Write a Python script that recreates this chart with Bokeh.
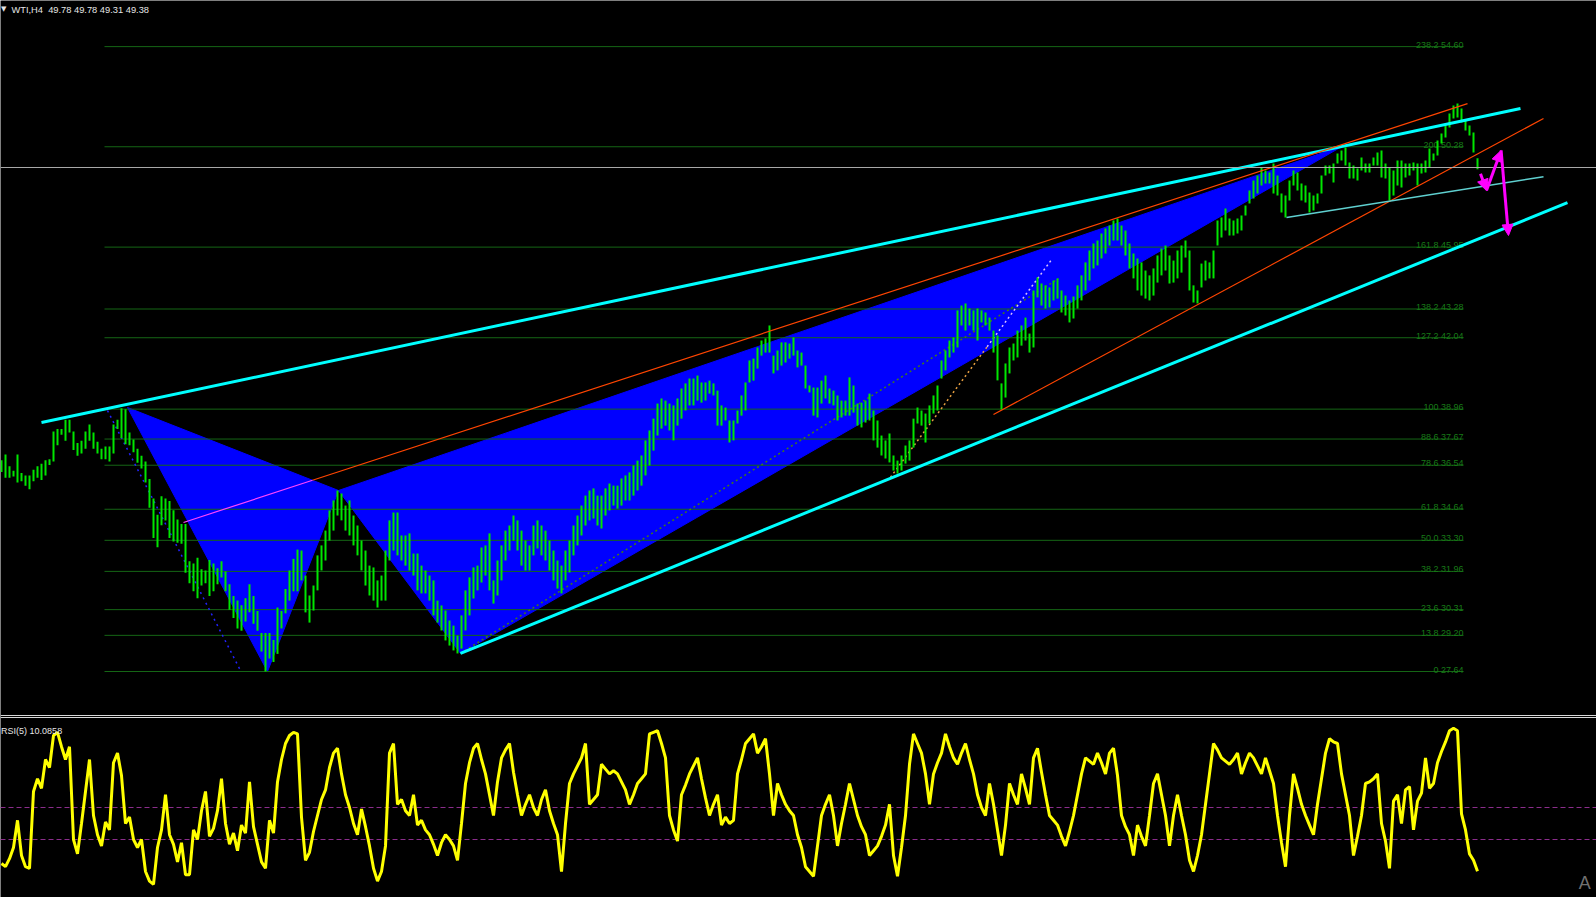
from bokeh.plotting import figure
from bokeh.models import Range1d, ColumnDataSource, Arrow, NormalHead
from bokeh.core.properties import value
from bokeh.embed import file_html
from bokeh.resources import INLINE

# ---------------- data ----------------
symbol = "WTI,H4"
last_ohlc = [49.78, 49.78, 49.31, 49.38]
bid_price = 49.38

bar_lo = [
    36.25, 36.00, 36.00, 36.05, 35.80, 35.85, 35.65, 35.50, 35.85, 36.00,
    35.90, 36.10, 36.55, 36.70, 37.40, 37.85, 37.60, 37.95, 37.20, 36.95,
    37.05, 37.25, 37.60, 37.25, 37.05, 36.80, 36.80, 36.70, 37.05, 38.10,
    37.70, 37.45, 37.40, 37.10, 36.65, 36.40, 35.80, 34.70, 33.40, 33.00,
    33.95, 34.15, 33.40, 33.25, 33.20, 33.15, 31.90, 31.45, 31.10, 30.80,
    31.35, 31.45, 30.90, 31.10, 31.40, 31.70, 31.10, 30.30, 29.95, 29.50,
    29.40, 29.80, 30.20, 29.70, 29.40, 28.50, 27.64, 28.20, 28.05, 28.40,
    29.50, 30.15, 30.70, 31.10, 31.10, 31.57, 30.19, 29.75, 30.27, 31.14,
    32.00, 32.43, 33.29, 33.72, 34.37, 34.16, 33.72, 33.51, 33.08, 32.65,
    32.00, 31.35, 30.92, 30.70, 30.40, 30.70, 30.70, 32.43, 32.86, 32.65,
    32.43, 32.21, 32.00, 31.78, 31.14, 31.01, 31.01, 30.70, 30.06, 29.75,
    29.41, 28.98, 28.76, 28.55, 28.42, 28.63, 29.41, 30.06, 30.79, 31.14,
    31.48, 31.78, 31.14, 30.57, 30.92, 31.57, 32.43, 32.86, 33.29, 32.86,
    32.21, 32.00, 32.00, 32.65, 32.95, 32.65, 32.43, 32.00, 31.57, 31.22,
    31.01, 31.57, 31.91, 32.65, 33.08, 33.51, 33.94, 34.16, 34.24, 33.94,
    33.81, 34.37, 34.59, 34.80, 34.67, 34.80, 35.02, 35.02, 35.23, 35.45,
    35.66, 36.10, 36.53, 37.17, 37.82, 38.12, 38.25, 38.04, 37.61, 38.25,
    38.55, 38.90, 39.12, 39.12, 39.33, 39.24, 39.33, 39.63, 39.55, 38.25,
    38.25, 38.47, 37.52, 37.61, 38.34, 38.68, 38.90, 40.11, 40.19, 40.71,
    41.27, 41.40, 41.40, 40.50, 40.63, 40.84, 40.97, 41.14, 41.27, 40.76,
    40.84, 39.85, 39.68, 38.68, 38.60, 39.20, 39.42, 39.20, 39.12, 38.47,
    38.60, 38.68, 38.68, 38.81, 38.25, 38.17, 38.38, 38.47, 37.61, 37.30,
    36.96, 36.83, 36.66, 36.31, 36.18, 36.31, 36.61, 36.74, 37.30, 38.34,
    38.25, 37.52, 38.34, 38.77, 38.90, 40.28, 40.63, 41.19, 41.40, 41.62,
    42.57, 42.35, 42.57, 42.35, 41.92, 42.70, 42.57, 42.35, 41.40, 40.20,
    38.94, 39.46, 40.50, 41.06, 41.19, 41.70, 41.92, 41.40, 41.62, 43.78,
    43.43, 43.30, 43.35, 43.65, 43.73, 43.13, 43.00, 42.70, 42.87, 43.30,
    43.65, 44.08, 44.51, 45.03, 45.16, 45.46, 45.67, 46.02, 46.24, 46.24,
    46.02, 45.59, 45.03, 44.60, 44.08, 43.86, 43.73, 43.65, 43.86, 44.42,
    44.73, 44.94, 44.38, 44.42, 44.60, 44.85, 45.50, 44.08, 43.56, 43.52,
    44.21, 44.51, 44.60, 44.60, 46.02, 46.37, 46.67, 46.45, 46.45, 46.54,
    46.67, 47.31, 47.83, 48.05, 48.26, 48.61, 48.70, 48.70, 48.26, 48.18,
    47.44, 47.23, 47.96, 48.61, 48.39, 47.96, 47.88, 47.44, 47.53, 47.83,
    48.26, 49.04, 49.13, 48.74, 49.56, 49.69, 49.47, 48.91, 48.91, 48.82,
    49.26, 49.17, 49.17, 49.47, 49.47, 48.95, 48.91, 47.96, 48.18, 48.61,
    48.52, 48.95, 49.04, 49.26, 48.61, 49.13, 49.17, 49.39, 49.69, 49.90,
    50.42, 50.68, 51.11, 51.50, 51.54, 51.33, 50.98, 50.77, 50.03, 49.31,
]
bar_hi = [
    36.75, 37.00, 36.50, 36.30, 37.00, 36.20, 36.10, 36.10, 36.35, 36.50,
    36.60, 36.75, 36.80, 38.00, 38.10, 38.10, 38.50, 38.50, 38.00, 37.50,
    37.60, 38.00, 38.30, 37.95, 37.55, 37.25, 37.35, 37.35, 38.30, 38.50,
    39.00, 38.95, 37.95, 37.65, 37.25, 36.95, 36.70, 35.95, 35.10, 34.40,
    35.20, 35.10, 35.00, 34.60, 34.20, 34.00, 34.00, 32.40, 32.30, 32.55,
    32.05, 32.00, 32.45, 32.30, 32.10, 32.40, 31.95, 31.40, 30.90, 30.70,
    30.50, 30.80, 31.40, 30.90, 30.25, 29.30, 29.30, 29.30, 29.00, 30.40,
    30.25, 31.20, 32.00, 32.50, 32.90, 32.86, 31.78, 30.92, 31.35, 32.65,
    33.08, 33.72, 34.59, 35.02, 35.45, 35.32, 34.80, 35.02, 34.37, 33.94,
    33.29, 32.86, 32.21, 32.13, 31.57, 31.78, 32.86, 34.16, 34.50, 34.50,
    33.51, 33.51, 33.60, 32.73, 32.73, 32.21, 32.00, 31.78, 31.57, 30.70,
    30.49, 30.27, 29.84, 29.62, 29.19, 30.06, 31.14, 31.70, 32.13, 32.21,
    32.99, 33.08, 33.60, 31.57, 32.43, 33.08, 33.72, 33.94, 34.37, 34.16,
    33.72, 33.29, 33.08, 33.94, 34.16, 33.94, 33.72, 33.29, 32.86, 32.43,
    32.21, 32.86, 33.29, 33.94, 34.37, 34.80, 35.23, 35.45, 35.54, 35.23,
    35.23, 35.54, 35.75, 35.66, 35.66, 35.97, 36.10, 36.23, 36.53, 36.74,
    36.96, 37.61, 38.04, 38.55, 39.20, 39.42, 39.33, 39.20, 39.12, 39.42,
    39.85, 40.07, 40.28, 40.28, 40.41, 40.11, 40.11, 40.19, 40.07, 39.76,
    39.12, 39.03, 38.47, 38.47, 38.90, 39.55, 40.11, 41.06, 41.14, 41.62,
    41.92, 42.01, 42.57, 41.27, 41.49, 41.84, 41.84, 41.79, 42.05, 41.49,
    41.40, 40.84, 39.98, 39.89, 39.89, 40.19, 40.41, 39.85, 39.76, 39.55,
    39.33, 39.33, 40.33, 39.98, 39.20, 39.24, 39.33, 39.63, 38.90, 38.47,
    37.82, 37.61, 37.91, 36.96, 36.74, 36.96, 37.39, 37.61, 38.55, 39.03,
    38.90, 38.77, 39.12, 39.55, 39.98, 41.06, 41.49, 41.92, 42.05, 43.22,
    43.43, 43.52, 43.30, 43.22, 43.30, 43.22, 43.13, 42.91, 42.35, 42.14,
    40.07, 40.93, 41.62, 41.79, 42.35, 42.57, 42.91, 42.22, 44.08, 44.64,
    44.38, 44.30, 44.21, 44.51, 44.60, 44.08, 43.86, 43.65, 43.82, 44.30,
    44.73, 45.29, 45.80, 46.11, 46.24, 46.54, 46.75, 46.88, 47.10, 47.18,
    46.88, 46.67, 46.11, 45.67, 45.46, 45.29, 44.94, 44.73, 45.03, 45.59,
    45.89, 46.02, 45.59, 45.37, 45.80, 46.02, 46.24, 45.80, 44.30, 44.08,
    45.24, 45.37, 45.29, 45.80, 47.10, 47.23, 47.62, 47.18, 47.10, 47.18,
    47.31, 47.75, 48.39, 48.82, 49.04, 49.39, 49.26, 49.17, 49.56, 49.04,
    48.26, 48.18, 48.82, 49.26, 49.17, 48.70, 48.61, 48.31, 48.18, 48.26,
    49.04, 49.47, 49.47, 49.56, 49.99, 50.12, 50.25, 49.60, 49.47, 49.34,
    49.82, 49.56, 49.56, 49.82, 50.03, 50.12, 49.56, 49.39, 49.26, 49.69,
    49.69, 49.56, 49.56, 49.60, 49.56, 49.56, 49.69, 50.20, 49.99, 50.55,
    50.85, 51.20, 51.71, 52.06, 52.15, 51.93, 51.41, 51.20, 50.90, 49.78,
]

rsi_period = 5
rsi = [
    15, 13, 18, 25, 42, 20, 13, 12, 60, 68,
    62, 80, 75, 95, 97, 88, 80, 88, 30, 21,
    40, 60, 80, 45, 33, 26, 41, 36, 78, 84,
    70, 40, 44, 30, 25, 30, 10, 4, 2, 25,
    36, 58, 33, 27, 16, 28, 8, 8, 36, 30,
    48, 60, 32, 37, 48, 68, 40, 27, 34, 23,
    39, 34, 66, 38, 27, 16, 12, 42, 34, 66,
    80, 90, 95, 97, 96, 44, 17, 22, 35, 45,
    55, 61, 75, 84, 87, 71, 58, 50, 40, 33,
    49, 38, 26, 12, 4, 10, 26, 84, 90, 52,
    55, 48, 45, 58, 39, 42, 36, 33, 27, 20,
    28, 33, 30, 26, 17, 40, 65, 78, 87, 90,
    80, 71, 58, 45, 66, 81, 86, 90, 72, 58,
    45, 52, 58, 50, 45, 55, 61, 48, 40, 33,
    10, 40, 65, 71, 76, 81, 90, 52, 55, 58,
    77, 74, 71, 73, 71, 66, 61, 52, 58, 65,
    68, 71, 96, 97, 98, 90, 81, 45, 36, 29,
    58, 64, 71, 76, 81, 68, 56, 45, 52, 58,
    39, 44, 40, 42, 71, 80, 90, 93, 96, 84,
    88, 93, 71, 45, 65, 58, 52, 48, 45, 33,
    25, 13, 10, 7, 26, 45, 52, 58, 45, 26,
    40, 52, 65, 55, 45, 38, 33, 20, 23, 26,
    32, 39, 52, 20, 7, 25, 45, 77, 96, 90,
    84, 71, 52, 71, 78, 84, 96, 88, 81, 77,
    84, 90, 80, 71, 58, 50, 45, 65, 52, 36,
    20, 39, 65, 58, 52, 71, 62, 52, 81, 87,
    72, 58, 45, 42, 39, 32, 26, 35, 45, 58,
    71, 81, 79, 77, 84, 78, 71, 84, 87, 70,
    45, 38, 33, 20, 39, 32, 26, 45, 65, 71,
    58, 45, 26, 45, 58, 45, 33, 17, 10, 20,
    33, 52, 71, 90, 86, 81, 79, 77, 80, 84,
    71, 78, 84, 81, 76, 71, 81, 73, 65, 45,
    28, 13, 45, 71, 62, 52, 45, 39, 33, 52,
    68, 84, 93, 91, 90, 71, 58, 45, 20, 32,
    45, 65, 66, 68, 71, 40, 29, 12, 54, 58,
    40, 61, 63, 36, 54, 59, 81, 62, 65, 78,
    85, 91, 98, 99.5, 98, 46, 36, 21, 17, 10.0858,
]
rsi_levels = [50, 30]

fib_pct = ["0", "13.8", "23.6", "38.2", "50.0", "61.8", "78.6", "88.6",
           "100", "127.2", "138.2", "161.8", "200", "238.2"]
fib_price = [27.64, 29.20, 30.31, 31.96, 33.30, 34.64, 36.54, 37.67,
             38.96, 42.04, 43.28, 45.95, 50.28, 54.60]
fib_bar_start = 25.75
fib_bar_end = 365.5

# harmonic pattern pivots (bar index, price)
xab_bar = [31.5, 66.5, 84.25]
xab_price = [39.03, 27.64, 35.45]
bcd_bar = [84.25, 114.75, 335.5]
bcd_price = [35.45, 28.42, 50.33]

# trend lines (bar index, price)
cyan_bar0 = [10.0, 114.75]
cyan_p0 = [38.38, 28.42]
cyan_bar1 = [379.75, 391.5]
cyan_p1 = [51.93, 47.87]

orange_bar0 = [77.75, 248.0]
orange_p0 = [35.89, 38.73]
orange_bar1 = [366.5, 385.5]
orange_p1 = [52.14, 51.50]

pink_bar = [45.5, 77.75]
pink_price = [34.07, 35.89]

flag_bar = [321.25, 385.5]
flag_price = [47.23, 48.99]

xa_dot_bar = [26.5, 59.75]
xa_dot_price = [38.90, 27.68]
cd_dot_bar = [114.75, 264.25]
cd_dot_price = [28.42, 44.59]
d_dot_bar = [222.25, 246.4]
d_dot_price = [36.02, 41.65]
d_dot2_bar = [246.4, 262.7]
d_dot2_price = [41.65, 45.45]

forecast_bar = [369.75, 371.25, 374.9, 376.75]
forecast_price = [49.12, 48.39, 50.12, 46.45]

# ---------------- figure ----------------
n = len(bar_lo)
bars = list(range(n))

FONT = value("Liberation Sans")

p = figure(width=1596, height=897,
           x_range=Range1d(-0.25, 398.75), y_range=Range1d(17.89, 56.59),
           output_backend="svg", toolbar_location=None,
           x_axis_location=None, y_axis_location=None,
           min_border=0, background_fill_color="black",
           border_fill_color="black", outline_line_color=None)
p.extra_y_ranges = {"rsi": Range1d(-6.25, 554.4)}
p.xgrid.visible = False
p.ygrid.visible = False

# blue harmonic triangles
p.patch(xab_bar, xab_price, fill_color="#0000ff", line_color="#0000ff", line_width=1)
p.patch(bcd_bar, bcd_price, fill_color="#0000ff", line_color="#0000ff", line_width=1)

# fibonacci levels
fib_labels = [f"{a} {b:.2f}" for a, b in zip(fib_pct, fib_price)]
p.segment(x0=[fib_bar_start] * len(fib_price), x1=[fib_bar_end] * len(fib_price),
          y0=fib_price, y1=fib_price, line_color="#156615", line_width=1)
p.text(x=[fib_bar_end] * len(fib_price), y=fib_price, text=fib_labels,
       text_align="right", text_baseline="alphabetic", y_offset=-2,
       text_color="#177a17", text_font=FONT, text_font_size="9px")

# dotted pattern lines
p.line(xa_dot_bar, xa_dot_price, line_color="#2222ff", line_width=1.5, line_dash="2 4")
p.line(cd_dot_bar, cd_dot_price, line_color="#3f7a1a", line_width=1.5, line_dash="2 3")
p.line(d_dot_bar, d_dot_price, line_color="#e8a040", line_width=1.5, line_dash="2 3")
p.line(d_dot2_bar, d_dot2_price, line_color="#d8c0ff", line_width=1.5, line_dash="2 3")

# price bars
src = ColumnDataSource(dict(x=bars, lo=bar_lo, hi=bar_hi))
p.segment(x0="x", y0="lo", x1="x", y1="hi", source=src,
          line_color="#00e600", line_width=2)

# trend lines
p.segment(x0=cyan_bar0, y0=cyan_p0, x1=cyan_bar1, y1=cyan_p1,
          line_color="#00ffff", line_width=3)
p.segment(x0=orange_bar0, y0=orange_p0, x1=orange_bar1, y1=orange_p1,
          line_color="#ff4500", line_width=1.2)
p.line(pink_bar, pink_price, line_color="#ff45ff", line_width=1.2)
p.line(flag_bar, flag_price, line_color="#5fd0d0", line_width=1.5)

# current bid line
p.hspan(y=[bid_price], line_color="#a8a8a8", line_width=1)

# forecast arrows
mag = "#ff00ff"
asrc = ColumnDataSource(dict(x0=forecast_bar[:-1], y0=forecast_price[:-1],
                             x1=forecast_bar[1:], y1=forecast_price[1:]))
p.add_layout(Arrow(x_start="x0", y_start="y0", x_end="x1", y_end="y1", source=asrc,
                   line_color=mag, line_width=3,
                   end=NormalHead(size=11, fill_color=mag, line_color=mag, line_width=1)))

# header
p.text(x=[-0.1], y=[56.22], text=["\u25bc"], text_color="#e6e6e6",
       text_font=value("DejaVu Sans"), text_font_size="7px", text_baseline="alphabetic")
header = f"{symbol}\u00a0 " + " ".join(f"{v:.2f}" for v in last_ohlc)
p.text(x=[2.5], y=[56.20], text=[header], text_color="#e6e6e6",
       text_font=FONT, text_font_size="9.3px", text_baseline="alphabetic")

# panel separator (indicator window)
p.hspan(y=[107.5, 106.25], y_range_name="rsi", line_color="#d8d8d8", line_width=1)

# RSI window
p.hspan(y=rsi_levels, y_range_name="rsi", line_color="#8b2d8b",
        line_width=1, line_dash="5 3")
p.line(bars, rsi, y_range_name="rsi", line_color="#ffff00", line_width=3)
p.text(x=[-0.1], y=[98.1], y_range_name="rsi",
       text=[f"RSI({rsi_period}) {rsi[-1]:.4f}"], text_color="#e6e6e6",
       text_font=FONT, text_font_size="9px", text_baseline="alphabetic")

# watermark letter bottom-right
p.text(x=[394.3], y=[3.0], y_range_name="rsi", text=["A"], text_color="#707070",
       text_font=FONT, text_font_size="18px", text_baseline="alphabetic")

open("out.html", "w").write(file_html(p, INLINE))
